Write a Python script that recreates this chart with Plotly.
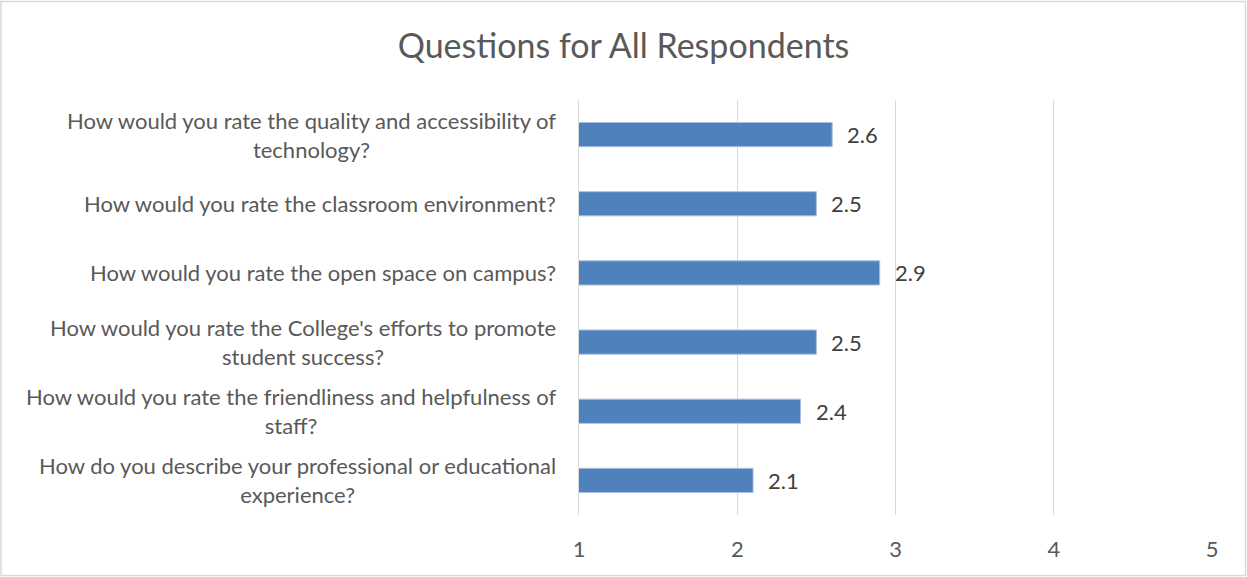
import plotly.graph_objects as go

questions = [
    "How would you rate the quality and accessibility of<br>technology?",
    "How would you rate the classroom environment?",
    "How would you rate the open space on campus?",
    "How would you rate the College's efforts to promote<br>student success?",
    "How would you rate the friendliness and helpfulness of<br>staff?",
    "How do you describe your professional or educational<br>experience?",
]
scores = [2.6, 2.5, 2.9, 2.5, 2.4, 2.1]
x_ticks = [1, 2, 3, 4, 5]

W, H = 1247, 577
ML, MR, MT, MB = 579, 35, 100, 62
TXT = "#595959"
FONT = "Lato"

idx = list(range(len(questions)))

fig = go.Figure()
fig.add_trace(go.Bar(
    y=idx, x=scores, orientation="h",
    marker=dict(color="#4F81BD", line=dict(color="#A9C1E0", width=1)),
    hoverinfo="skip",
))

annotations = []
for i, (q, s) in enumerate(zip(questions, scores)):
    annotations.append(dict(
        x=s, y=i, xref="x", yref="y", text=f"{s:.1f}", showarrow=False,
        xanchor="left", xshift=13, font=dict(family=FONT, size=22, color="#404040"),
    ))
    annotations.append(dict(
        x=0, y=i, xref="paper", yref="y", text=q, showarrow=False,
        xanchor="right", xshift=-21, align="center",
        font=dict(family=FONT, size=22, color=TXT),
    ))

pw, ph = W - ML - MR, H - MT - MB
fig.update_layout(
    width=W, height=H,
    margin=dict(l=ML, r=MR, t=MT, b=MB),
    paper_bgcolor="white", plot_bgcolor="white",
    title=dict(text="Questions for All Respondents", x=0.5, xref="container",
               xanchor="center", y=1 - 46 / H, yanchor="middle",
               font=dict(family=FONT, size=34, color=TXT)),
    xaxis=dict(range=[1, 5], tickvals=x_ticks, showgrid=True, gridcolor="#D9D9D9",
               gridwidth=1, zeroline=False, showline=False, ticks="",
               tickfont=dict(family=FONT, size=22, color=TXT), ticklabelstandoff=19),
    yaxis=dict(autorange="reversed", showticklabels=False, showgrid=False,
               zeroline=False, showline=True, linecolor="#D9D9D9", linewidth=1,
               ticks=""),
    bargap=0.65,
    showlegend=False,
    annotations=annotations,
    shapes=[dict(type="rect", xref="paper", yref="paper",
                 x0=(-ML + 1) / pw, x1=1 + (MR - 1.5) / pw,
                 y0=(-MB + 1.5) / ph, y1=1 + (MT - 1.5) / ph,
                 line=dict(color="#D9D9D9", width=1.5), layer="below")],
)

fig.write_html("out.html", config={"displayModeBar": False},
               post_script="document.body.style.margin='0';")
